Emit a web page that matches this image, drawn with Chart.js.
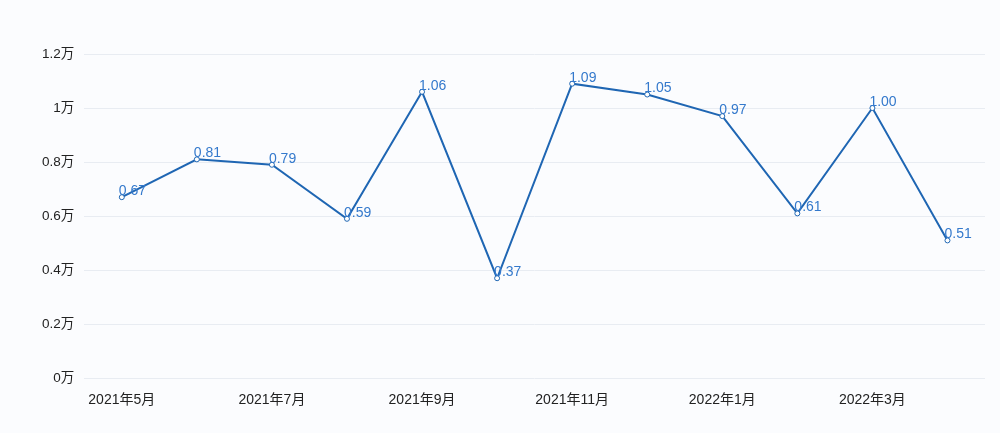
<!DOCTYPE html>
<html>
<head>
<meta charset="utf-8">
<script src="https://cdn.jsdelivr.net/npm/chart.js@4"></script>
<style>
  html, body { margin: 0; padding: 0; background: #fbfcfe; }
  #wrap { width: 1000px; height: 433px; }
</style>
</head>
<body>
<div id="wrap"><canvas id="myChart"></canvas></div>
<script>
const months = ['2021年5月', '2021年6月', '2021年7月', '2021年8月', '2021年9月', '2021年10月',
    '2021年11月', '2021年12月', '2022年1月', '2022年2月', '2022年3月', '2022年4月'];
const values = [0.67, 0.81, 0.79, 0.59, 1.06, 0.37, 1.09, 1.05, 0.97, 0.61, 1.00, 0.51];
const yTicks = [0, 0.2, 0.4, 0.6, 0.8, 1, 1.2];

const tickFont = '"Liberation Sans", "Noto Sans CJK SC", sans-serif';

// draws the value next to each point
const pointLabels = {
    id: 'pointLabels',
    afterDatasetsDraw(chart) {
        const ctx = chart.ctx;
        const meta = chart.getDatasetMeta(0);
        ctx.save();
        ctx.font = '14px "Liberation Sans", Arial, sans-serif';
        ctx.fillStyle = '#3479cc';
        ctx.textAlign = 'left';
        ctx.textBaseline = 'middle';
        meta.data.forEach((pt, i) => {
            ctx.fillText(values[i].toFixed(2), pt.x - 3, pt.y - 6);
        });
        ctx.restore();
    }
};

const ctx = document.getElementById('myChart');
const myChart = new Chart(ctx, {
    type: 'line',
    data: {
        labels: months,
        datasets: [{
            label: '数量',
            data: values,
            borderColor: '#1f66b3',
            borderWidth: 2,
            pointRadius: 2.5,
            pointBorderWidth: 1,
            pointBackgroundColor: '#ffffff',
            pointBorderColor: '#1f66b3',
            tension: 0
        }]
    },
    options: {
        responsive: true,
        maintainAspectRatio: false,
        animation: false,
        scales: {
            x: {
                offset: true,
                grid: { display: false },
                border: { display: false },
                ticks: {
                    autoSkip: false,
                    maxRotation: 0,
                    color: '#222',
                    font: { size: 14, family: tickFont },
                    padding: 6,
                    callback: function(v, i) { return i % 2 === 0 ? months[i] : ''; }
                }
            },
            y: {
                min: 0,
                max: 1.2,
                afterBuildTicks: function(axis) {
                    axis.ticks = yTicks.map(v => ({ value: v }));
                },
                grid: { color: '#e8ecf2', drawTicks: false },
                border: { display: false },
                ticks: {
                    color: '#222',
                    padding: 10,
                    font: { size: 13.5, family: tickFont },
                    callback: v => (Math.round(v * 10) / 10) + '万'
                }
            }
        },
        plugins: {
            legend: { display: false },
            tooltip: { enabled: false }
        },
        layout: {
            padding: { top: 54, right: 15, left: 32, bottom: 18 }
        }
    },
    plugins: [pointLabels]
});
</script>
</body>
</html>
